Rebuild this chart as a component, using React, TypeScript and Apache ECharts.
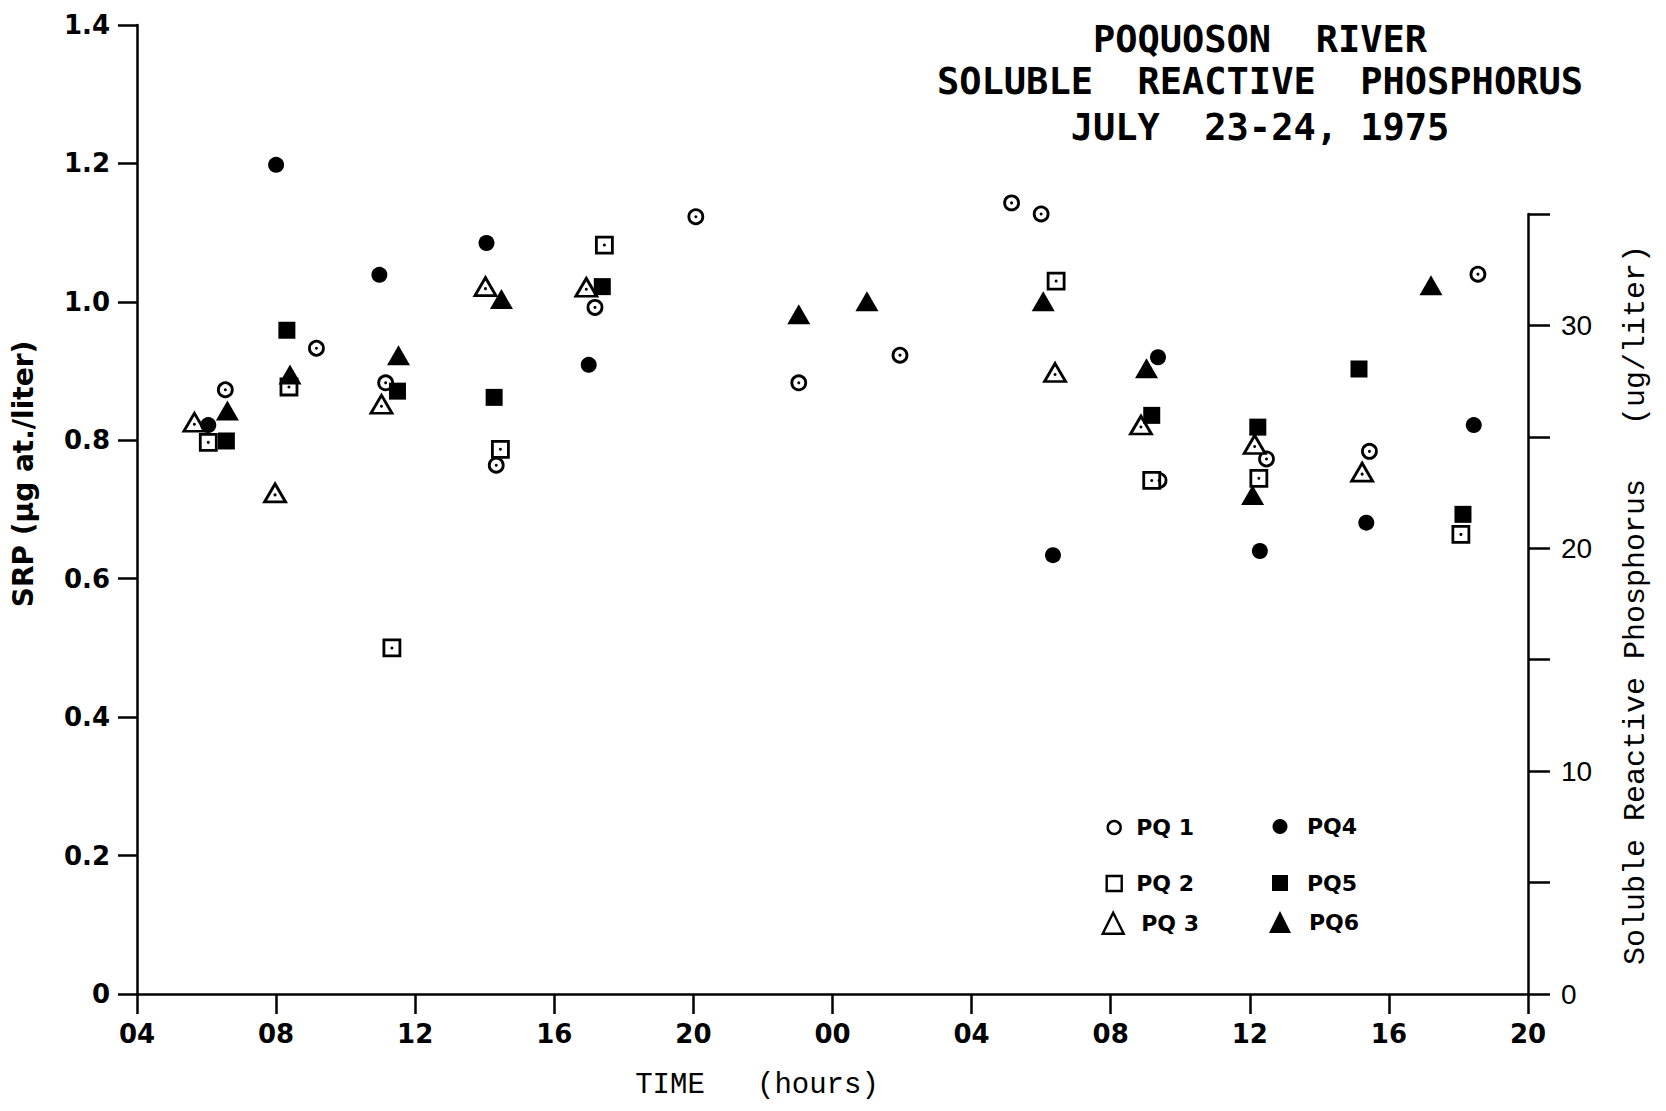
import React, { useEffect, useRef } from "react";
import * as echarts from "echarts";

// Time in hours since 00 on July 23 (24 = 00 on July 24)
const xTickHours = [4, 8, 12, 16, 20, 24, 28, 32, 36, 40, 44];

const pq1Hours = [6.54, 9.16, 11.15, 14.33, 17.17, 20.07, 23.03, 25.94, 29.15, 30.0, 33.39, 36.48, 39.44, 42.56];
const pq1Srp = [0.873, 0.933, 0.883, 0.764, 0.992, 1.123, 0.883, 0.923, 1.143, 1.127, 0.742, 0.773, 0.784, 1.04];

const pq2Hours = [6.05, 8.37, 11.33, 14.45, 17.44, 30.43, 33.18, 36.26, 42.07];
const pq2Srp = [0.797, 0.877, 0.5, 0.787, 1.082, 1.03, 0.742, 0.745, 0.664];

const pq3Hours = [5.65, 7.97, 11.03, 14.02, 16.92, 30.4, 32.87, 36.14, 39.23];
const pq3Srp = [0.826, 0.724, 0.852, 1.022, 1.021, 0.898, 0.822, 0.794, 0.754];

const pq4Hours = [6.05, 8.0, 10.97, 14.05, 16.99, 30.34, 33.36, 36.29, 39.35, 42.44];
const pq4Srp = [0.822, 1.198, 1.039, 1.085, 0.909, 0.634, 0.92, 0.64, 0.681, 0.822];

const pq5Hours = [6.57, 8.31, 11.49, 14.27, 17.38, 33.18, 36.23, 39.14, 42.13];
const pq5Srp = [0.799, 0.959, 0.871, 0.862, 1.022, 0.836, 0.819, 0.903, 0.693];

const pq6Hours = [6.6, 8.4, 11.52, 14.48, 23.03, 24.99, 30.06, 33.03, 36.08, 41.21];
const pq6Srp = [0.843, 0.895, 0.923, 1.004, 0.982, 1.001, 1.001, 0.904, 0.721, 1.024];

const titleLines = ["POQUOSON  RIVER", "SOLUBLE  REACTIVE  PHOSPHORUS", "JULY  23-24, 1975"];
const leftAxisName = "SRP (µg at./liter)";
const rightAxisName = "Soluble Reactive Phosphorus   (ug/liter)";
const xAxisName = "TIME   (hours)";

const zip = (xs: number[], ys: number[]) => xs.map((x, i) => [x, ys[i]]);

const BLACK = "#000";
const openStyle = { color: "#fff", borderColor: BLACK, borderWidth: 2.8, opacity: 1 };
const filledStyle = { color: BLACK, borderWidth: 0, opacity: 1 };

function buildOption() {
  const tickFont = { fontFamily: "DejaVu Sans", fontWeight: "bold" as const, fontSize: 26, color: BLACK };
  const lineStyle = { color: BLACK, width: 2.5 };

  const mainSeries = (name: string, xs: number[], ys: number[], symbol: string, size: any, style: any) => ({
    name,
    type: "scatter",
    xAxisIndex: 0,
    yAxisIndex: 0,
    data: zip(xs, ys),
    symbol,
    symbolSize: size,
    itemStyle: style,
    z: 2,
    silent: true,
  });
  const dotSeries = (name: string, xs: number[], ys: number[], dy: number) => ({
    name,
    type: "scatter",
    xAxisIndex: 0,
    yAxisIndex: 0,
    data: zip(xs, ys),
    symbol: "circle",
    symbolSize: 3,
    symbolOffset: [0, dy],
    itemStyle: { color: BLACK, opacity: 1 },
    z: 3,
    silent: true,
  });

  const legendItem = (name: string, icon: string, style: any, cx: number, cy: number, d: number, s: number) => {
    const pad = Math.max(0, d - s / 2 - 5);
    return {
      orient: "horizontal",
      padding: 0,
      selectedMode: false,
      data: [{ name, icon, itemStyle: style }],
      itemWidth: s,
      itemHeight: s,
      left: cx - s / 2,
      top: cy - s / 2,
      textStyle: {
        fontFamily: "DejaVu Sans",
        fontWeight: "bold",
        fontSize: 22,
        color: BLACK,
        padding: [0, 0, 0, pad],
      },
    };
  };
  const legendOpen = { color: "#fff", borderColor: BLACK, borderWidth: 2.4, opacity: 1 };
  const legendFilled = { color: BLACK, borderWidth: 0, opacity: 1 };

  const textStyle = (text: string, font: string) => ({
    text,
    font,
    fill: BLACK,
    align: "center",
    verticalAlign: "middle",
    textAlign: "center",
    textVerticalAlign: "middle",
  });

  return {
    animation: false,
    backgroundColor: "#fff",
    grid: [
      { left: 137, right: 138, top: 25, bottom: 117 },
      { left: 137, right: 138, top: 214, bottom: 117 },
    ],
    xAxis: [
      {
        gridIndex: 0,
        type: "value",
        min: xTickHours[0],
        max: xTickHours[xTickHours.length - 1],
        interval: 4,
        axisLine: { show: true, onZero: false, lineStyle },
        axisTick: { show: true, inside: false, length: 20, lineStyle },
        axisLabel: {
          ...tickFont,
          margin: 27,
          formatter: (v: number) => String(((v % 24) + 24) % 24).padStart(2, "0"),
        },
        splitLine: { show: false },
      },
      { gridIndex: 1, type: "value", min: 4, max: 44, show: false },
    ],
    yAxis: [
      {
        gridIndex: 0,
        type: "value",
        min: 0,
        max: 1.4,
        interval: 0.2,
        axisLine: { show: true, onZero: false, lineStyle },
        axisTick: { show: true, inside: false, length: 19, lineStyle },
        axisLabel: {
          ...tickFont,
          margin: 27,
          formatter: (v: number) => (Math.abs(v) < 1e-9 ? "0" : v.toFixed(1)),
        },
        splitLine: { show: false },
      },
      {
        gridIndex: 1,
        type: "value",
        position: "right",
        min: 0,
        max: 35,
        interval: 5,
        axisLine: { show: true, onZero: false, lineStyle },
        axisTick: { show: true, inside: false, length: 22, lineStyle },
        axisLabel: {
          fontFamily: "Liberation Sans",
          fontSize: 28,
          color: BLACK,
          margin: 33,
          formatter: (v: number) => (Math.round(v) % 10 === 0 ? String(Math.round(v)) : ""),
        },
        splitLine: { show: false },
      },
    ],
    legend: [
      legendItem("PQ 1", "circle", legendOpen, 1113, 823, 22, 13),
      legendItem("PQ4", "circle", legendFilled, 1280, 823, 27, 15),
      legendItem("PQ 2", "rect", legendOpen, 1113, 880, 22, 15),
      legendItem("PQ5", "rect", legendFilled, 1280, 880, 27, 16),
      legendItem("PQ 3", "triangle", legendOpen, 1112, 922, 28, 21),
      legendItem("PQ6", "triangle", legendFilled, 1280, 922, 29, 22),
    ],
    graphic: [
      ...titleLines.map((t, i) => ({
        type: "text",
        x: 1260,
        y: [39, 81, 127][i],
        silent: true,
        style: textStyle(t, "bold 37px 'DejaVu Sans Mono'"),
      })),
      {
        type: "text",
        x: 23,
        y: 474,
        rotation: Math.PI / 2,
        silent: true,
        style: textStyle(leftAxisName, "bold 28px 'DejaVu Sans'"),
      },
      {
        type: "text",
        x: 1636,
        y: 605,
        rotation: Math.PI / 2,
        silent: true,
        style: textStyle(rightAxisName, "30px 'Liberation Mono'"),
      },
      {
        type: "text",
        x: 757,
        y: 1085,
        silent: true,
        style: textStyle(xAxisName, "29px 'Liberation Mono'"),
      },
    ],
    series: [
      mainSeries("PQ 1", pq1Hours, pq1Srp, "circle", 14, openStyle),
      mainSeries("PQ 2", pq2Hours, pq2Srp, "rect", 16, openStyle),
      mainSeries("PQ 3", pq3Hours, pq3Srp, "triangle", [21, 18], openStyle),
      mainSeries("PQ4", pq4Hours, pq4Srp, "circle", 16, filledStyle),
      mainSeries("PQ5", pq5Hours, pq5Srp, "rect", 17, filledStyle),
      mainSeries("PQ6", pq6Hours, pq6Srp, "triangle", [23, 20], filledStyle),
      dotSeries("PQ 1 centre", pq1Hours, pq1Srp, 0),
      dotSeries("PQ 2 centre", pq2Hours, pq2Srp, 0),
      dotSeries("PQ 3 centre", pq3Hours, pq3Srp, 2),
    ],
  };
}

export default function App() {
  const ref = useRef<HTMLDivElement>(null);
  useEffect(() => {
    if (!ref.current) return;
    const chart = echarts.init(ref.current, null, { renderer: "svg" });
    chart.setOption(buildOption() as any);
    return () => chart.dispose();
  }, []);
  return (
    <div
      ref={ref}
      style={{ position: "absolute", left: 0, top: 0, width: 1666, height: 1111, background: "#fff" }}
    />
  );
}
